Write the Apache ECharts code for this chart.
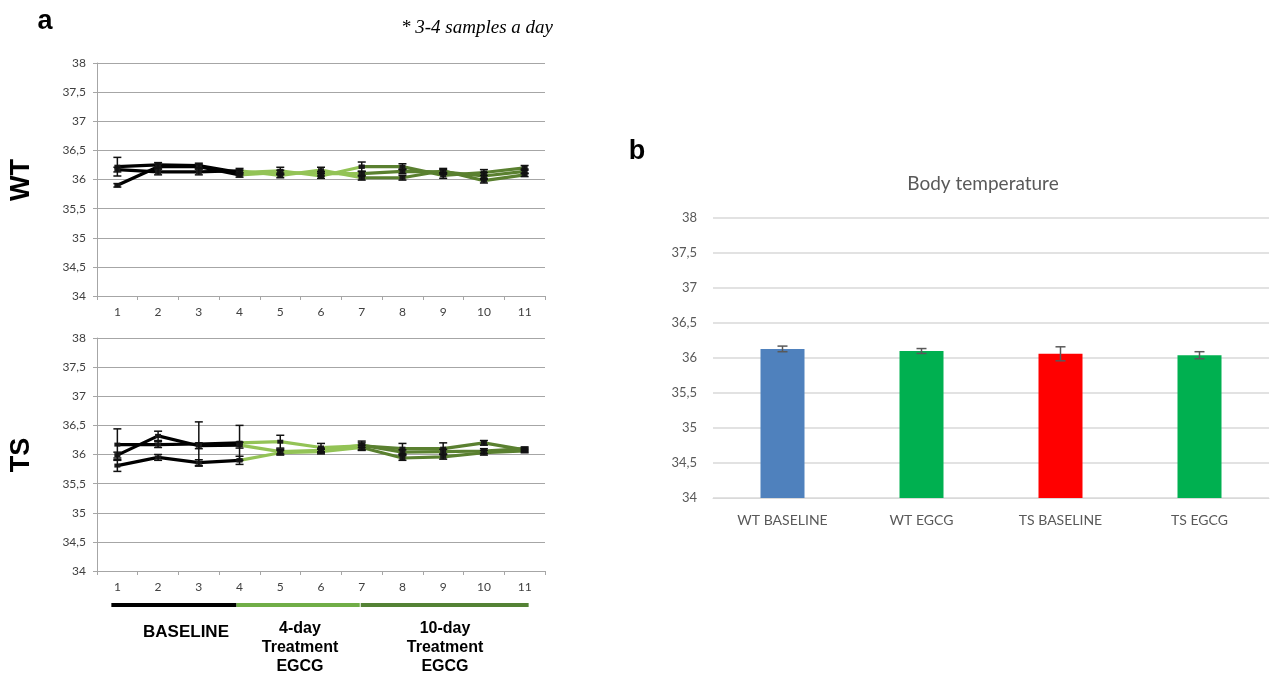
<!DOCTYPE html>
<html>
<head>
<meta charset="utf-8">
<script src="https://cdn.jsdelivr.net/npm/echarts@6/dist/echarts.min.js"></script>
<style>
  html, body { margin: 0; padding: 0; background: #fff; }
  #main { width: 1277px; height: 675px; }
</style>
</head>
<body>
<div id="main"></div>
<script>
// day numbers on panel a
const days = ['1', '2', '3', '4', '5', '6', '7', '8', '9', '10', '11']

// WT daily samples (°C) and their error bars
const wtSample1 = [36.22, 36.25, 36.24, 36.12, 36.15, 36.06, 36.22, 36.22, 36.07, 36.12, 36.2]
const wtSample2 = [36.17, 36.13, 36.13, 36.15, 36.07, 36.16, 36.03, 36.03, 36.15, 35.98, 36.08]
const wtSample3 = [35.9, 36.22, 36.22, 36.08, 36.12, 36.1, 36.1, 36.14, 36.13, 36.06, 36.14]
const wtErr1 = [0.16, 0.04, 0.04, 0.04, 0.06, 0.04, 0.08, 0.05, 0.05, 0.05, 0.04]
const wtErr2 = [0.04, 0.05, 0.05, 0.04, 0.04, 0.05, 0.04, 0.04, 0.04, 0.04, 0.03]
const wtErr3 = [0.03, 0.04, 0.04, 0.04, 0.04, 0.04, 0.04, 0.04, 0.04, 0.06, 0.04]

// TS daily samples (°C) and their error bars
const tsSample1 = [36.17, 36.17, 36.18, 36.2, 36.22, 36.12, 36.15, 36.1, 36.1, 36.2, 36.08]
const tsSample2 = [35.99, 36.32, 36.15, 36.16, 36.05, 36.07, 36.16, 36.04, 36.05, 36.06, 36.1]
const tsSample3 = [35.81, 35.95, 35.86, 35.9, 36.03, 36.05, 36.12, 35.94, 35.96, 36.03, 36.06]
const tsErr1 = [0.27, 0.05, 0.38, 0.3, 0.11, 0.07, 0.08, 0.09, 0.1, 0.04, 0.03]
const tsErr2 = [0.05, 0.08, 0.05, 0.05, 0.04, 0.04, 0.04, 0.04, 0.04, 0.04, 0.03]
const tsErr3 = [0.1, 0.05, 0.05, 0.07, 0.04, 0.04, 0.04, 0.04, 0.04, 0.04, 0.03]

// panel b
const groups = ['WT BASELINE', 'WT EGCG', 'TS BASELINE', 'TS EGCG']
const meanTemp = [36.13, 36.1, 36.06, 36.04]
const errTemp = [0.04, 0.035, 0.1, 0.05]

// periods: index ranges on the day axis
const periods = [
  { from: 0, to: 3, color: '#000000' },
  { from: 3, to: 6, color: '#93c356' },
  { from: 6, to: 10, color: '#5a8030' },
]

const chart = echarts.init(document.getElementById('main'))

const commaFmt = (v) => String(v).replace('.', ',')
const labelFont = 'Lato, "Open Sans", sans-serif'

const makeLines = (values, gridIdx) =>
  periods.map((p) => ({
    type: 'line',
    xAxisIndex: gridIdx,
    yAxisIndex: gridIdx,
    data: values.map((v, i) => (i >= p.from && i <= p.to ? v : '-')),
    lineStyle: { color: p.color, width: 3.2 },
    itemStyle: { color: '#1a1a1a' },
    symbol: 'rect',
    symbolSize: [6, 4],
    showSymbol: true,
    connectNulls: false,
    silent: true,
    z: 2,
  }))

const errRender = (capHalf, color, width) => (params, api) => {
  const x = api.value(0)
  const lo = api.coord([x, api.value(1)])
  const hi = api.coord([x, api.value(2)])
  const st = { stroke: color, lineWidth: width }
  return {
    type: 'group',
    children: [
      { type: 'line', shape: { x1: lo[0], y1: lo[1], x2: hi[0], y2: hi[1] }, style: st },
      { type: 'line', shape: { x1: lo[0] - capHalf, y1: lo[1], x2: lo[0] + capHalf, y2: lo[1] }, style: st },
      { type: 'line', shape: { x1: hi[0] - capHalf, y1: hi[1], x2: hi[0] + capHalf, y2: hi[1] }, style: st },
    ],
  }
}

const makeErr = (values, errs, gridIdx) => ({
  type: 'custom',
  xAxisIndex: gridIdx,
  yAxisIndex: gridIdx,
  data: values.map((v, i) => [i, v - errs[i], v + errs[i]]),
  renderItem: errRender(4, '#111', 1.5),
  encode: { x: 0, y: [1, 2] },
  silent: true,
  z: 3,
})

const lineYAxis = (gridIdx) => ({
  type: 'value',
  gridIndex: gridIdx,
  min: 34,
  max: 38,
  interval: 0.5,
  axisLine: { show: true, lineStyle: { color: '#a6a6a6' } },
  axisTick: { show: true, length: 4, lineStyle: { color: '#a6a6a6' } },
  axisLabel: { formatter: commaFmt, color: '#404040', fontSize: 12, fontFamily: labelFont, margin: 11 },
  splitLine: { lineStyle: { color: '#a6a6a6' } },
})

const lineXAxis = (gridIdx) => ({
  type: 'category',
  gridIndex: gridIdx,
  data: days,
  boundaryGap: true,
  axisLine: { lineStyle: { color: '#a6a6a6' } },
  axisTick: { show: true, length: 4, lineStyle: { color: '#a6a6a6' } },
  axisLabel: { color: '#404040', fontSize: 12, fontFamily: labelFont, margin: 10 },
})

const option = {
  animation: false,
  backgroundColor: '#ffffff',
  grid: [
    { left: 97, width: 448, top: 63, height: 233 },
    { left: 97, width: 448, top: 338, height: 233 },
    { left: 713, width: 556, top: 218, height: 280 },
  ],
  xAxis: [
    lineXAxis(0),
    lineXAxis(1),
    {
      type: 'category',
      gridIndex: 2,
      data: groups,
      axisLine: { lineStyle: { color: '#d9d9d9' } },
      axisTick: { show: false },
      axisLabel: { color: '#595959', fontSize: 14, fontFamily: labelFont, margin: 15 },
    },
  ],
  yAxis: [
    lineYAxis(0),
    lineYAxis(1),
    {
      type: 'value',
      gridIndex: 2,
      min: 34,
      max: 38,
      interval: 0.5,
      axisLine: { show: false },
      axisTick: { show: false },
      axisLabel: { formatter: commaFmt, color: '#595959', fontSize: 13, fontFamily: labelFont, margin: 16 },
      splitLine: { lineStyle: { color: '#d9d9d9', width: 1.5 } },
    },
  ],
  series: [
    ...makeLines(wtSample1, 0),
    ...makeLines(wtSample2, 0),
    ...makeLines(wtSample3, 0),
    ...makeLines(tsSample1, 1),
    ...makeLines(tsSample2, 1),
    ...makeLines(tsSample3, 1),
    makeErr(wtSample1, wtErr1, 0),
    makeErr(wtSample2, wtErr2, 0),
    makeErr(wtSample3, wtErr3, 0),
    makeErr(tsSample1, tsErr1, 1),
    makeErr(tsSample2, tsErr2, 1),
    makeErr(tsSample3, tsErr3, 1),
    {
      type: 'bar',
      xAxisIndex: 2,
      yAxisIndex: 2,
      barWidth: 44,
      data: meanTemp.map((v, i) => ({
        value: v,
        itemStyle: { color: ['#4f81bd', '#00b050', '#ff0000', '#00b050'][i] },
      })),
      silent: true,
    },
    {
      type: 'custom',
      xAxisIndex: 2,
      yAxisIndex: 2,
      data: meanTemp.map((v, i) => [i, v - errTemp[i], v + errTemp[i]]),
      renderItem: errRender(5, '#595959', 1.5),
      encode: { x: 0, y: [1, 2] },
      silent: true,
      z: 3,
    },
  ],
}

chart.setOption(option)

// labels and the period strip under the TS panel
const cx = (i) => chart.convertToPixel({ xAxisIndex: 1 }, days[i])
const stripY = 603
const stripOffsets = [[-6, -3], [-3, -2], [-1, 4]]
const strip = periods.map((p, k) => ({
  type: 'rect',
  shape: {
    x: cx(p.from) + stripOffsets[k][0],
    y: stripY,
    width: cx(p.to) + stripOffsets[k][1] - (cx(p.from) + stripOffsets[k][0]),
    height: 4,
  },
  style: { fill: k === 1 ? '#70ad47' : k === 2 ? '#548235' : '#000' },
}))

const boldText = (text, x, y, size, extra) => ({
  type: 'text',
  x,
  y,
  style: Object.assign(
    {
      text,
      font: 'bold ' + size + 'px "Liberation Sans", Arial, sans-serif',
      fill: '#000',
      align: 'center',
      verticalAlign: 'middle',
    },
    extra || {}
  ),
})

chart.setOption({
  graphic: [
    ...strip,
    boldText('a', 45, 22, 27),
    boldText('b', 637, 152, 27),
    Object.assign(boldText('WT', 22, 180, 27), { rotation: Math.PI / 2 }),
    Object.assign(boldText('TS', 22, 455, 27), { rotation: Math.PI / 2 }),
    boldText('BASELINE', 186, 632, 17),
    boldText('4-day\nTreatment\nEGCG', 300, 648, 16, { lineHeight: 19 }),
    boldText('10-day\nTreatment\nEGCG', 445, 648, 16, { lineHeight: 19 }),
    {
      type: 'text',
      x: 553,
      y: 28,
      style: {
        text: '* 3-4 samples a day',
        font: 'italic 19px "Liberation Serif", "Times New Roman", serif',
        fill: '#000',
        align: 'right',
        verticalAlign: 'middle',
      },
    },
    {
      type: 'text',
      x: 983,
      y: 184,
      style: {
        text: 'Body temperature',
        font: '19px Lato, "Open Sans", sans-serif',
        fill: '#595959',
        align: 'center',
        verticalAlign: 'middle',
      },
    },
  ],
})
</script>
</body>
</html>
